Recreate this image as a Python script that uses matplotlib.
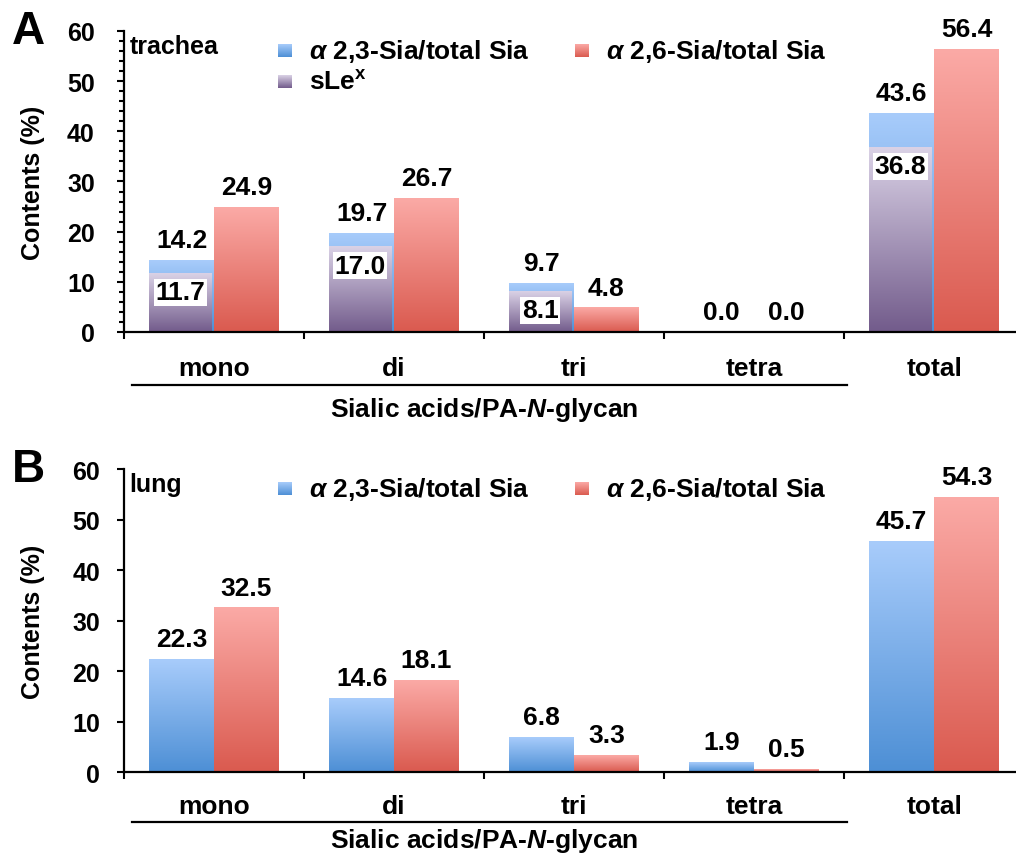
import numpy as np
import matplotlib
matplotlib.use('Agg')
import matplotlib.pyplot as plt
from matplotlib.colors import LinearSegmentedColormap
from matplotlib.transforms import blended_transform_factory

plt.rcParams['font.family'] = 'Liberation Sans'
plt.rcParams['font.weight'] = 'bold'
plt.rcParams['axes.labelweight'] = 'bold'
plt.rcParams['mathtext.fontset'] = 'custom'
plt.rcParams['mathtext.rm'] = 'Liberation Sans:bold'
plt.rcParams['mathtext.bf'] = 'Liberation Sans:bold'
plt.rcParams['mathtext.it'] = 'Liberation Sans:italic:bold'

# data
categorias = ['mono', 'di', 'tri', 'tetra', 'total']
traquea_a23 = [14.2, 19.7, 9.7, 0.0, 43.6]
traquea_a26 = [24.9, 26.7, 4.8, 0.0, 56.4]
traquea_slex = [11.7, 17.0, 8.1, 0.0, 36.8]
pulmao_a23 = [22.3, 14.6, 6.8, 1.9, 45.7]
pulmao_a26 = [32.5, 18.1, 3.3, 0.5, 54.3]

nome_a23 = r'$\alpha$ 2,3-Sia/total Sia'
nome_a26 = r'$\alpha$ 2,6-Sia/total Sia'
nome_slex = r'sLe$^{\mathbf{x}}$'

cmap_azul = LinearSegmentedColormap.from_list('azul', ['#4d8fd5', '#a8ccfb'])
cmap_verm = LinearSegmentedColormap.from_list('verm', ['#da5a4f', '#fbaaa6'])
cmap_roxo = LinearSegmentedColormap.from_list('roxo', ['#725b8b', '#dad2e6'])
grad = np.linspace(0, 1, 256).reshape(-1, 1)

FS = 18


def barras_gradiente(ax, bars, cmap, z):
    for b in bars:
        x, w, h = b.get_x(), b.get_width(), b.get_height()
        if h <= 0:
            continue
        ax.imshow(grad, extent=[x, x + w, 0, h], origin='lower', aspect='auto',
                  cmap=cmap, zorder=z, interpolation='bicubic')


def quadrado(ax, x, y, cmap):
    # small gradient square for the legend, axes coords
    ax.imshow(grad, extent=[x, x + 0.0145, y, y + 0.042], origin='lower', aspect='auto',
              cmap=cmap, transform=ax.transAxes, zorder=6, clip_on=False)


def montar(ax, a23, a26, slex, tecido, letra, minor, pad, y_linha, y_titulo, pad_x):
    x = np.arange(len(categorias))
    w = 0.36
    b1 = ax.bar(x - w / 2, a23, w, color='none')
    b2 = ax.bar(x + w / 2, a26, w, color='none')
    barras_gradiente(ax, b1, cmap_azul, 2)
    barras_gradiente(ax, b2, cmap_verm, 2)
    for b, v in zip(b1, a23):
        ax.annotate(f'{v:.1f}', (b.get_x() + b.get_width() / 2, v), xytext=(0, 6),
                    textcoords='offset points', ha='center', va='bottom', fontsize=FS + 1)
    for b, v in zip(b2, a26):
        ax.annotate(f'{v:.1f}', (b.get_x() + b.get_width() / 2, v), xytext=(0, 6),
                    textcoords='offset points', ha='center', va='bottom', fontsize=FS + 1)
    if slex is not None:
        ws = 0.345
        b3 = ax.bar(x - w + ws / 2, slex, ws, color='none')
        barras_gradiente(ax, b3, cmap_roxo, 3)
        for b, v in zip(b3, slex):
            if v <= 0:
                continue
            ax.text(b.get_x() + b.get_width() / 2, v - 1.4, f'{v:.1f}', ha='center', va='top',
                    fontsize=FS + 1, zorder=5,
                    bbox=dict(boxstyle='square,pad=0.06', fc='white', ec='none'))

    ax.set_xlim(-0.5, 4.5)
    ax.set_ylim(0, 60)
    ax.set_yticks(range(0, 61, 10))
    if minor:
        ax.set_yticks(range(0, 61, 2), minor=True)
    ax.tick_params(axis='y', which='major', labelsize=FS, width=1.5, length=5, pad=pad)
    ax.tick_params(axis='y', which='minor', width=1.5, length=3.5)
    ax.set_xticks(x)
    ax.set_xticklabels(categorias, fontsize=FS + 1)
    ax.set_xticks(np.arange(-0.5, 4.5, 1), minor=True)
    ax.tick_params(axis='x', which='major', length=0, pad=pad_x)
    ax.tick_params(axis='x', which='minor', width=1.5, length=5)
    for lab in ax.get_xticklabels() + ax.get_yticklabels():
        lab.set_fontweight('bold')
    for s in ['top', 'right']:
        ax.spines[s].set_visible(False)
    for s in ['left', 'bottom']:
        ax.spines[s].set_linewidth(1.6)
        ax.spines[s].set_zorder(7)

    ax.set_ylabel('Contents (%)', fontsize=FS)
    ax.yaxis.set_label_coords(-0.101, 0.5)
    ax.yaxis.label.set_va('center')

    trans = blended_transform_factory(ax.transData, ax.transAxes)
    ax.plot([-0.455, 3.515], [y_linha, y_linha], color='black', lw=1.6, transform=trans, clip_on=False)
    ax.text(1.5, y_titulo, 'Sialic acids/PA-$\\mathit{N}$-glycan', transform=trans,
            ha='center', va='center', fontsize=FS + 1)

    ax.text(0.006, 0.95, tecido, transform=ax.transAxes, fontsize=FS, ha='left', va='center')
    ax.text(-0.124, 1.0, letra, transform=ax.transAxes, fontsize=33, ha='left', va='center')

    # legend
    quadrado(ax, 0.171, 0.913, cmap_azul)
    ax.text(0.206, 0.935, nome_a23, transform=ax.transAxes, fontsize=FS + 1, va='center')
    quadrado(ax, 0.501, 0.913, cmap_verm)
    ax.text(0.536, 0.935, nome_a26, transform=ax.transAxes, fontsize=FS + 1, va='center')
    if slex is not None:
        quadrado(ax, 0.171, 0.81, cmap_roxo)
        ax.text(0.206, 0.832, nome_slex, transform=ax.transAxes, fontsize=FS + 1, va='center')
    ax.set_xlim(-0.5, 4.5)
    ax.set_ylim(0, 60)


fig = plt.figure(figsize=(10.16, 8.62), dpi=100)
ax1 = fig.add_axes([0.122, 0.6137, 0.886, 0.3492])
ax2 = fig.add_axes([0.122, 0.1032, 0.886, 0.3515])

montar(ax1, traquea_a23, traquea_a26, traquea_slex, 'trachea', 'A', True, 16, -0.177, -0.255, 17)
montar(ax2, pulmao_a23, pulmao_a26, None, 'lung', 'B', False, 12, -0.165, -0.224, 16)

fig.savefig('out.png', dpi=100)
